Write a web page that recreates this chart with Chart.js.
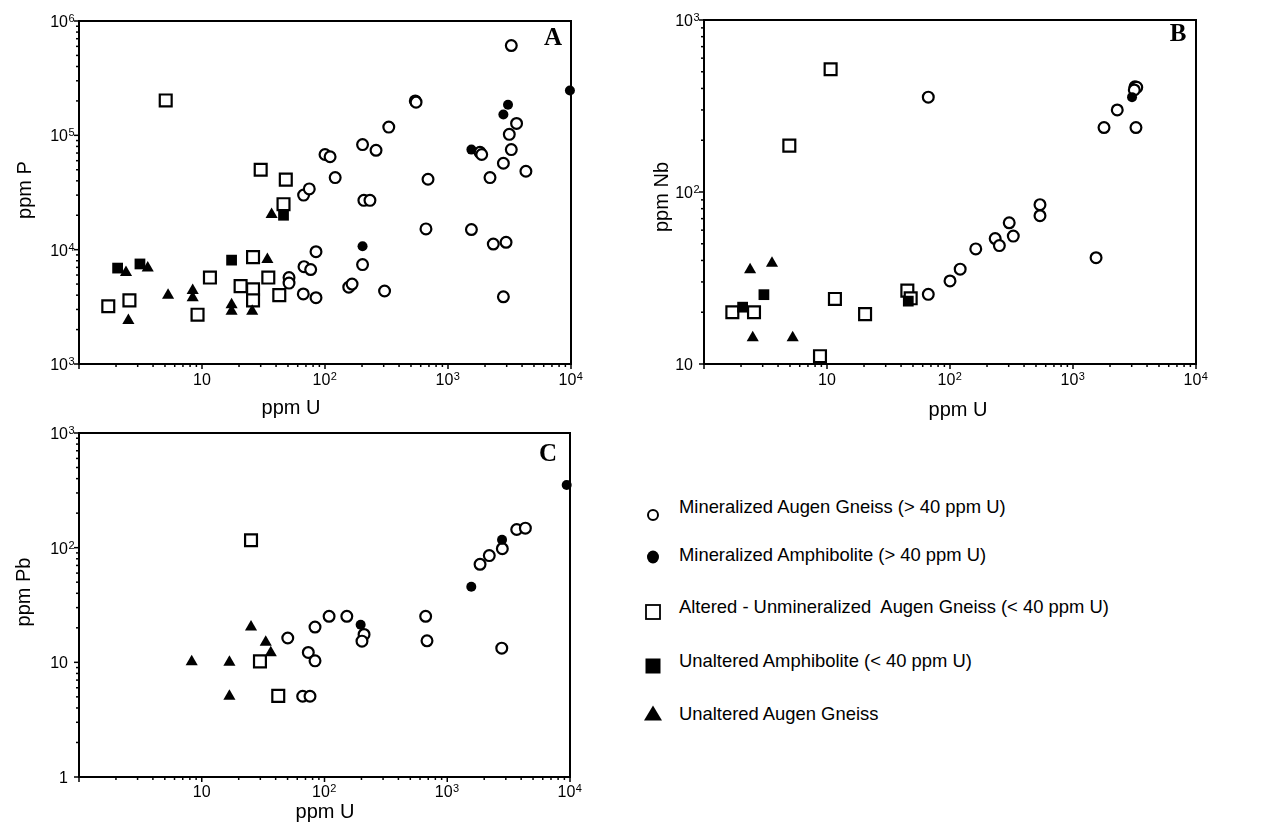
<!DOCTYPE html>
<html>
<head>
<meta charset="utf-8">
<script src="https://cdn.jsdelivr.net/npm/chart.js@4.4.0/dist/chart.umd.min.js"></script>
<style>
  body { margin: 0; background: #fff; width: 1265px; height: 831px; position: relative; overflow: hidden;
         font-family: "Liberation Sans", Arial, sans-serif; }
  canvas { position: absolute; }
  #chartA { left: 0; top: 0; }
  #chartB { left: 600px; top: 0; }
  #chartC { left: 0; top: 410px; }
  .leg { position: absolute; left: 679px; font-size: 18.4px; line-height: 22px; white-space: pre; color: #000; }
  #legMarks { position: absolute; left: 630px; top: 490px; }
</style>
</head>
<body>
<canvas id="chartA" width="600" height="430"></canvas>
<canvas id="chartB" width="665" height="430"></canvas>
<canvas id="chartC" width="600" height="421"></canvas>

<svg id="legMarks" width="50" height="240">
  <circle cx="23" cy="25" r="5" fill="#fff" stroke="#000" stroke-width="2"/>
  <ellipse cx="23" cy="67" rx="6" ry="6.5" fill="#000"/>
  <rect x="16" y="115" width="14" height="14" fill="#fff" stroke="#000" stroke-width="1.8"/>
  <rect x="15.5" y="168.5" width="15" height="15" fill="#000"/>
  <polygon points="14,230.5 32,230.5 23,215.5" fill="#000"/>
</svg>
<div class="leg" style="top:496px">Mineralized Augen Gneiss (&gt; 40 ppm U)</div>
<div class="leg" style="top:544px">Mineralized Amphibolite (&gt; 40 ppm U)</div>
<div class="leg" style="top:596px">Altered - Unmineralized  Augen Gneiss (&lt; 40 ppm U)</div>
<div class="leg" style="top:650px">Unaltered Amphibolite (&lt; 40 ppm U)</div>
<div class="leg" style="top:703px">Unaltered Augen Gneiss</div>

<script>
// ---- Panel A : U vs P ----
const aOpenCircU = [3270, 542, 550, 3610, 3150, 3270, 1820, 1880, 2820, 4300, 2195, 330, 202, 260, 100, 110, 121, 688,
                    67, 74.5, 207, 232, 662, 1550, 2335, 2965, 202, 84.5, 67.5, 76.5, 51, 51, 66.6, 84.5, 156, 166, 305, 2820];
const aOpenCircP = [6.1e5, 2.0e5, 1.95e5, 1.27e5, 1.02e5, 7.5e4, 7.1e4, 6.8e4, 5.7e4, 4.85e4, 4.27e4, 1.18e5, 8.3e4, 7.4e4, 6.8e4, 6.5e4, 4.27e4, 4.13e4,
                    3.0e4, 3.4e4, 2.7e4, 2.7e4, 1.52e4, 1.5e4, 1.12e4, 1.16e4, 7.4e3, 9.6e3, 7.1e3, 6.7e3, 5.7e3, 5.1e3, 4.1e3, 3.8e3, 4.7e3, 5.0e3, 4.35e3, 3.87e3];
const aFillCircU = [9800, 3075, 2820, 1550, 202];
const aFillCircP = [2.47e5, 1.85e5, 1.52e5, 7.5e4, 1.07e4];
const aOpenSqU = [5.07, 30, 48, 46, 26, 11.6, 20.6, 26, 26, 34.6, 42.5, 1.73, 2.57, 9.2];
const aOpenSqP = [2.02e5, 5.0e4, 4.1e4, 2.5e4, 8.6e3, 5.7e3, 4.8e3, 4.5e3, 3.6e3, 5.7e3, 4.0e3, 3.2e3, 3.6e3, 2.7e3];
const aFillSqU = [46, 17.4, 2.06, 3.13];
const aFillSqP = [2.0e4, 8.1e3, 6.9e3, 7.5e3];
const aTriU = [36.8, 34, 2.41, 3.62, 2.52, 5.3, 8.4, 8.4, 17.4, 17.4, 25.6];
const aTriP = [2.03e4, 8.2e3, 6.3e3, 6.9e3, 2.4e3, 4.0e3, 4.4e3, 3.8e3, 3.3e3, 2.9e3, 2.9e3];

// ---- Panel B : U vs Nb ----
const bOpenCircU = [66.6, 66.6, 100, 121, 162, 233, 252, 303, 327, 539, 539, 1540, 1787, 2290, 3190, 3300, 3150, 3250];
const bOpenCircNb = [356, 25.4, 30.4, 35.6, 46.7, 53.6, 48.8, 66.2, 55.4, 84.4, 72.8, 41.5, 237, 300, 409, 406, 392, 237];
const bFillCircU = [3020];
const bFillCircNb = [356];
const bOpenSqU = [10.7, 4.94, 1.70, 2.55, 8.77, 11.6, 20.4, 45, 47.9];
const bOpenSqNb = [517, 186, 20.0, 20.0, 11.1, 23.9, 19.5, 26.7, 24.1];
const bFillSqU = [3.07, 2.06, 45.8];
const bFillSqNb = [25.3, 21.4, 23.2];
const bTriU = [2.37, 3.57, 2.49, 5.26];
const bTriNb = [35.3, 38.5, 14.2, 14.2];

// ---- Panel C : U vs Pb ----
const cOpenCircU = [50.2, 83.7, 73.8, 83.7, 66.4, 76.2, 109, 152, 210, 202, 667, 684, 1850, 2200, 2810, 3680, 4330, 2780];
const cOpenCircPb = [16.3, 20.3, 12.2, 10.3, 5.06, 5.06, 25.2, 25.2, 17.5, 15.3, 25.2, 15.4, 71.6, 85.3, 98, 144, 148, 13.3];
const cFillCircU = [197, 1570, 2795, 9400];
const cFillCircPb = [21.3, 45.7, 117, 352];
const cOpenSqU = [25.2, 29.8, 42];
const cOpenSqPb = [116, 10.2, 5.1];
const cFillSqU = [];
const cFillSqPb = [];
const cTriU = [25.2, 33.2, 36.5, 8.28, 16.8, 16.8];
const cTriPb = [20.3, 15.0, 12.1, 10.1, 10, 5.06];

const pts = (xs, ys) => xs.map((x, i) => ({ x: x, y: ys[i] }));

const styles = {
  tri:  { pointStyle: 'triangle', pointRadius: 7, pointBackgroundColor: '#000', pointBorderColor: '#000', pointBorderWidth: 0 },
  fsq:  { pointStyle: 'rect', pointRadius: 7.6, pointBackgroundColor: '#000', pointBorderColor: '#000', pointBorderWidth: 0 },
  fci:  { pointStyle: 'circle', pointRadius: 5, pointBackgroundColor: '#000', pointBorderColor: '#000', pointBorderWidth: 0 },
  osq:  { pointStyle: 'rect', pointRadius: 8.4, pointBackgroundColor: '#fff', pointBorderColor: '#000', pointBorderWidth: 2.2 },
  oci:  { pointStyle: 'circle', pointRadius: 5.4, pointBackgroundColor: '#fff', pointBorderColor: '#000', pointBorderWidth: 2.2 },
};

function sets(tri, fsq, fci, osq, oci) {
  // first dataset is painted last, so filled marks sit on top
  return [
    Object.assign({ label: 'Unaltered Augen Gneiss', data: tri }, styles.tri),
    Object.assign({ label: 'Unaltered Amphibolite (< 40 ppm U)', data: fsq }, styles.fsq),
    Object.assign({ label: 'Mineralized Amphibolite (> 40 ppm U)', data: fci }, styles.fci),
    Object.assign({ label: 'Altered - Unmineralized Augen Gneiss (< 40 ppm U)', data: osq }, styles.osq),
    Object.assign({ label: 'Mineralized Augen Gneiss (> 40 ppm U)', data: oci }, styles.oci),
  ].map(d => Object.assign(d, { showLine: false, clip: false, pointHoverRadius: d.pointRadius }));
}

const FONT = '"Liberation Sans", Arial, sans-serif';
const SUP = ['', '', '2', '3', '4', '5', '6'];

function powLabel(ctx, e, x, base, align) {
  const digits = e === 0 ? '1' : '10';
  const sup = e >= 2 ? SUP[e] : '';
  ctx.font = '16px ' + FONT;
  const wd = ctx.measureText(digits).width;
  ctx.font = '11px ' + FONT;
  const ws = sup ? ctx.measureText(sup).width + 1 : 0;
  let x0;
  if (align === 'right') x0 = x - wd;          // digits end at x, exponent hangs after
  else x0 = x - (wd + ws) / 2;
  ctx.textAlign = 'left';
  ctx.textBaseline = 'alphabetic';
  ctx.font = '16px ' + FONT;
  ctx.fillText(digits, x0, base);
  if (sup) {
    ctx.font = '11px ' + FONT;
    ctx.fillText(sup, x0 + wd + 0.5, base - 5);
  }
}

const frame = {
  id: 'frame',
  beforeDatasetsDraw(chart) {
    const { ctx, chartArea: a, scales } = chart;
    ctx.save();
    ctx.strokeStyle = '#000';
    ctx.lineWidth = 2;
    ctx.strokeRect(a.left, a.top, a.right - a.left, a.bottom - a.top);
    ctx.lineWidth = 1.5;
    ['x', 'y'].forEach(id => {
      const s = scales[id];
      const e0 = Math.round(Math.log10(s.min)), e1 = Math.round(Math.log10(s.max));
      for (let e = e0; e <= e1; e++) {
        for (let k = 1; k <= 9; k++) {
          if (e === e1 && k > 1) break;
          const v = k * Math.pow(10, e);
          const len = k === 1 ? 5 : 3;
          const p = s.getPixelForValue(v);
          ctx.beginPath();
          if (id === 'x') { ctx.moveTo(p, a.bottom); ctx.lineTo(p, a.bottom + len); }
          else { ctx.moveTo(a.left, p); ctx.lineTo(a.left - len, p); }
          ctx.stroke();
        }
      }
    });
    ctx.restore();
  },
  afterDraw(chart, args, o) {
    const { ctx, chartArea: a, scales: { x, y } } = chart;
    ctx.save();
    ctx.fillStyle = '#000';
    const ex0 = Math.round(Math.log10(x.min)), ex1 = Math.round(Math.log10(x.max));
    for (let e = Math.max(ex0, 1); e <= ex1; e++) {
      powLabel(ctx, e, x.getPixelForValue(Math.pow(10, e)), a.bottom + o.xLabelGap, 'center');
    }
    const ey0 = Math.round(Math.log10(y.min)), ey1 = Math.round(Math.log10(y.max));
    for (let e = ey0; e <= ey1; e++) {
      powLabel(ctx, e, a.left - 11, y.getPixelForValue(Math.pow(10, e)) + 6, 'right');
    }
    ctx.font = '20px ' + FONT;
    ctx.textAlign = 'center';
    ctx.textBaseline = 'middle';
    ctx.fillText(o.xTitle, o.xTitlePos[0], o.xTitlePos[1]);
    ctx.save();
    ctx.translate(o.yTitlePos[0], o.yTitlePos[1]);
    ctx.rotate(-Math.PI / 2);
    ctx.fillText(o.yTitle, 0, 0);
    ctx.restore();
    ctx.font = 'bold 25px "Liberation Serif", "Times New Roman", serif';
    ctx.fillText(o.letter, o.letterPos[0], o.letterPos[1]);
    ctx.restore();
  }
};

function makeChart(id, datasets, yMin, yMax, padding, opts) {
  return new Chart(document.getElementById(id), {
    type: 'scatter',
    data: { datasets: datasets },
    plugins: [frame],
    options: {
      responsive: false,
      animation: false,
      events: [],
      layout: { padding: padding },
      plugins: { legend: { display: false }, tooltip: { enabled: false }, frame: opts },
      scales: {
        x: { type: 'logarithmic', min: 1, max: 1e4, display: false },
        y: { type: 'logarithmic', min: yMin, max: yMax, display: false }
      }
    }
  });
}

makeChart('chartA',
  sets(pts(aTriU, aTriP), pts(aFillSqU, aFillSqP), pts(aFillCircU, aFillCircP), pts(aOpenSqU, aOpenSqP), pts(aOpenCircU, aOpenCircP)),
  1e3, 1e6, { left: 79, top: 21, right: 29, bottom: 66 },
  { xTitle: 'ppm U', xTitlePos: [291, 408], yTitle: 'ppm P', yTitlePos: [25, 190], letter: 'A', letterPos: [553, 39], xLabelGap: 21 });

makeChart('chartB',
  sets(pts(bTriU, bTriNb), pts(bFillSqU, bFillSqNb), pts(bFillCircU, bFillCircNb), pts(bOpenSqU, bOpenSqNb), pts(bOpenCircU, bOpenCircNb)),
  10, 1e3, { left: 104, top: 20, right: 69, bottom: 66 },
  { xTitle: 'ppm U', xTitlePos: [358, 410], yTitle: 'ppm Nb', yTitlePos: [62, 197], letter: 'B', letterPos: [578, 35], xLabelGap: 21 });

makeChart('chartC',
  sets(pts(cTriU, cTriPb), pts(cFillSqU, cFillSqPb), pts(cFillCircU, cFillCircPb), pts(cOpenSqU, cOpenSqPb), pts(cOpenCircU, cOpenCircPb)),
  1, 1e3, { left: 79, top: 23, right: 30, bottom: 54 },
  { xTitle: 'ppm U', xTitlePos: [325, 402], yTitle: 'ppm Pb', yTitlePos: [24, 592 - 410], letter: 'C', letterPos: [548, 45], xLabelGap: 20 });
</script>
</body>
</html>
